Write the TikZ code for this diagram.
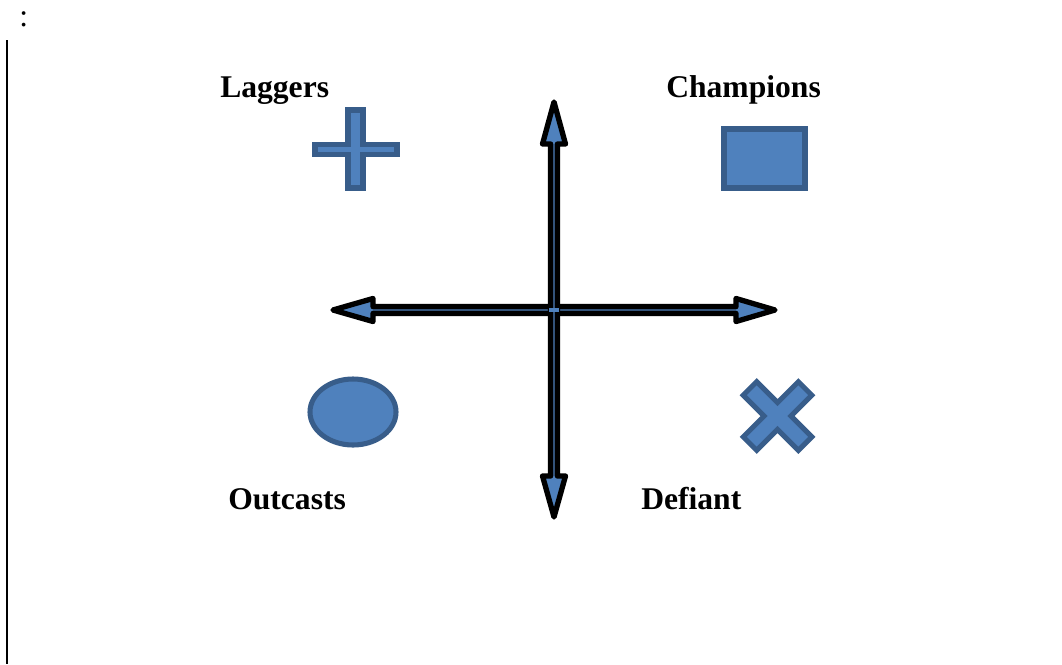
\documentclass[tikz,border=0pt]{standalone}
\usepackage{fontspec}
\setmainfont{Liberation Serif}
\definecolor{shapefill}{HTML}{4F81BD}
\definecolor{shapeedge}{HTML}{385D8A}
\tikzset{
  quad/.style={font=\fontsize{23.7}{28}\selectfont\bfseries, anchor=base west, inner sep=0pt},
  shapestyle/.style={fill=shapefill, draw=shapeedge, line width=3.8pt, line join=miter},
  axisarrow/.style={fill=shapefill, draw=black, line width=4pt, line join=round}
}
\begin{document}
\begin{tikzpicture}[x=0.75pt,y=-0.75pt]
\useasboundingbox (0,0) rectangle (1062,664);
% colon and left rule
\node[font=\fontsize{23.7}{28}\selectfont, anchor=base west, inner sep=0pt] (colon) at (19,26) {:};
\coordinate (ruletop) at (6.5,40);
\coordinate (rulebot) at (6.5,664);
\draw[line width=1.5pt] (ruletop) -- (rulebot);
% labels
\node[quad] (laggers) at (220,97) {Laggers};
\node[quad] (champions) at (666,97) {Champions};
\node[quad] (outcasts) at (228,509) {Outcasts};
\node[quad] (defiant) at (641,509) {Defiant};
% horizontal double arrow
\draw[axisarrow] (333,310) -- (373,298.5) -- (373,306.6) -- (736,306.6) -- (736,298.5) -- (775,310)
  -- (736,321.5) -- (736,313.4) -- (373,313.4) -- (373,321.5) -- cycle;
% vertical double arrow
\draw[axisarrow] (554,102) -- (542.5,144) -- (550.6,144) -- (550.6,476) -- (542.5,476) -- (554,517)
  -- (565.5,476) -- (557.4,476) -- (557.4,144) -- (565.5,144) -- cycle;
\fill[shapefill] (549,308) rectangle (559,312);
% plus (Laggers)
\draw[shapestyle] (348,110) -- (363,110) -- (363,144.5) -- (397,144.5) -- (397,154.5) -- (363,154.5)
  -- (363,188) -- (348,188) -- (348,154.5) -- (315,154.5) -- (315,144.5) -- (348,144.5) -- cycle;
% rectangle (Champions)
\draw[shapestyle] (724,129) rectangle (805,188);
% ellipse (Outcasts)
\draw[shapestyle] (353,412) ellipse [x radius=43, y radius=33];
% cross (Defiant)
\begin{scope}[shift={(777.5,416)}, rotate=45]
\draw[shapestyle] (-9.5,-39) -- (9.5,-39) -- (9.5,-9.5) -- (39,-9.5) -- (39,9.5) -- (9.5,9.5)
  -- (9.5,39) -- (-9.5,39) -- (-9.5,9.5) -- (-39,9.5) -- (-39,-9.5) -- (-9.5,-9.5) -- cycle;
\end{scope}
\end{tikzpicture}
\end{document}
